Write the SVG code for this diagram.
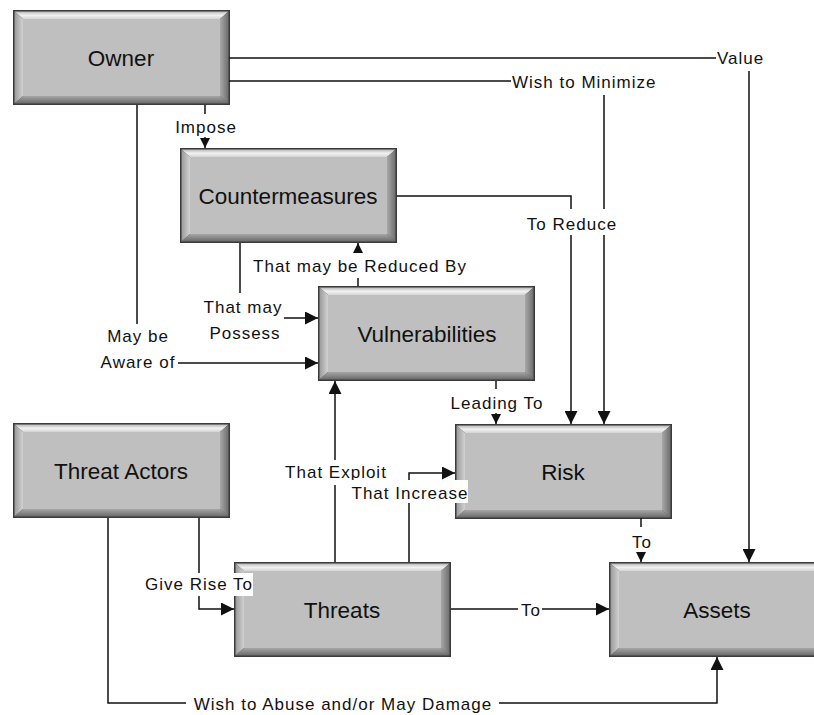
<svg xmlns="http://www.w3.org/2000/svg" xmlns:xlink="http://www.w3.org/1999/xlink" width="814" height="715" viewBox="0 0 814 715">
  <style>
    .node-text { font-family: "Liberation Sans", Arial, sans-serif; font-size: 22.5px; fill: #111; text-anchor: middle; }
    .lbl { font-family: "Liberation Sans", Arial, sans-serif; font-size: 17px; letter-spacing: 1px; fill: #111; text-anchor: middle; }
    .lbl-start { text-anchor: start; }
    .bg { fill: #ffffff; }
    .conn { fill: none; stroke: #111; stroke-width: 1.5; }
    .big { marker-end: url(#ah); }
    .small { marker-end: url(#ahs); }
  </style>
  <defs>
    <marker id="ah" markerUnits="userSpaceOnUse" markerWidth="13" markerHeight="13" viewBox="0 0 13 13" refX="13" refY="6.5" orient="auto">
      <path d="M0,0 L13,6.5 L0,13 z" fill="#111"/>
    </marker>
    <marker id="ahs" markerUnits="userSpaceOnUse" markerWidth="10" markerHeight="10" viewBox="0 0 10 10" refX="10" refY="5" orient="auto">
      <path d="M0,0 L10,5 L0,10 z" fill="#111"/>
    </marker>
    <linearGradient id="gTop" x1="0" y1="0" x2="0" y2="1">
      <stop offset="0" stop-color="#b8b8b8"/>
      <stop offset="0.5" stop-color="#f2f2f2"/>
      <stop offset="1" stop-color="#d4d4d4"/>
    </linearGradient>
    <linearGradient id="gBot" x1="0" y1="0" x2="0" y2="1">
      <stop offset="0" stop-color="#a6a6a6"/>
      <stop offset="1" stop-color="#6a6a6a"/>
    </linearGradient>
    <linearGradient id="gLeft" x1="0" y1="0" x2="1" y2="0">
      <stop offset="0" stop-color="#9a9a9a"/>
      <stop offset="1" stop-color="#d2d2d2"/>
    </linearGradient>
    <linearGradient id="gRight" x1="0" y1="0" x2="1" y2="0">
      <stop offset="0" stop-color="#a8a8a8"/>
      <stop offset="1" stop-color="#6e6e6e"/>
    </linearGradient>
    <symbol id="box" viewBox="0 0 217 95" overflow="visible">
      <rect x="0" y="0" width="217" height="95" fill="#3a3a3a"/>
      <polygon points="1.5,1.5 215.5,1.5 207,9 10,9" fill="url(#gTop)"/>
      <polygon points="1.5,1.5 10,9 10,86 1.5,93.5" fill="url(#gLeft)"/>
      <polygon points="215.5,1.5 215.5,93.5 207,86 207,9" fill="url(#gRight)"/>
      <polygon points="1.5,93.5 10,86 207,86 215.5,93.5" fill="url(#gBot)"/>
      <rect x="10" y="9" width="197" height="77" fill="#bfbfbf"/>
    </symbol>
  </defs>

  <rect width="814" height="715" fill="#ffffff"/>

  <g id="owner">
    <use xlink:href="#box" x="13" y="10" width="217" height="95"/>
    <text class="node-text" x="121" y="66">Owner</text>
  </g>
  <g id="countermeasures">
    <use xlink:href="#box" x="180" y="148" width="217" height="95"/>
    <text class="node-text" x="288" y="204">Countermeasures</text>
  </g>
  <g id="vulnerabilities">
    <use xlink:href="#box" x="318" y="286" width="217" height="95"/>
    <text class="node-text" x="427" y="342">Vulnerabilities</text>
  </g>
  <g id="threat-actors">
    <use xlink:href="#box" x="13" y="423" width="217" height="95"/>
    <text class="node-text" x="121" y="479">Threat Actors</text>
  </g>
  <g id="risk">
    <use xlink:href="#box" x="455" y="424" width="217" height="95"/>
    <text class="node-text" x="563" y="480">Risk</text>
  </g>
  <g id="threats">
    <use xlink:href="#box" x="234" y="562" width="217" height="95"/>
    <text class="node-text" x="342" y="618">Threats</text>
  </g>
  <g id="assets">
    <use xlink:href="#box" x="609" y="562" width="217" height="95"/>
    <text class="node-text" x="717" y="618">Assets</text>
  </g>

  <g id="connectors">
    <!-- Owner -> Assets : Value -->
    <path class="conn big" d="M229,58 H749 V562"/>
    <rect class="bg" x="716" y="47" width="52" height="24"/>
    <text class="lbl lbl-start" x="717" y="64">Value</text>

    <!-- Owner -> Risk : Wish to Minimize -->
    <path class="conn big" d="M229,81 H604 V424"/>
    <rect class="bg" x="511" y="70" width="155" height="25"/>
    <text class="lbl lbl-start" x="512" y="88">Wish to Minimize</text>

    <!-- Owner -> Countermeasures : Impose -->
    <path class="conn small" d="M205,105 V148"/>
    <rect class="bg" x="172" y="114" width="66" height="23"/>
    <text class="lbl" x="206" y="133">Impose</text>

    <!-- Owner -> Vulnerabilities : May be Aware of -->
    <path class="conn big" d="M137,105 V363 H318"/>
    <rect class="bg" x="95" y="324" width="83" height="49"/>
    <text class="lbl" x="138" y="342">May be</text>
    <text class="lbl" x="138" y="368">Aware of</text>

    <!-- Countermeasures -> Risk : To Reduce -->
    <path class="conn big" d="M397,196 H571 V424"/>
    <rect class="bg" x="524" y="209" width="94" height="26"/>
    <text class="lbl" x="572" y="230">To Reduce</text>

    <!-- Countermeasures -> Vulnerabilities : That may Possess -->
    <path class="conn big" d="M240,243 V318 H318"/>
    <rect class="bg" x="200" y="293" width="84" height="51"/>
    <text class="lbl" x="243" y="313">That may</text>
    <text class="lbl" x="245" y="339">Possess</text>

    <!-- Vulnerabilities -> Countermeasures : That may be Reduced By -->
    <path class="conn small" d="M358,286 V243"/>
    <rect class="bg" x="250" y="253" width="219" height="25"/>
    <text class="lbl" x="360" y="272">That may be Reduced By</text>

    <!-- Vulnerabilities -> Risk : Leading To -->
    <path class="conn small" d="M496,381 V424"/>
    <rect class="bg" x="448" y="389" width="96" height="24"/>
    <text class="lbl" x="497" y="409">Leading To</text>

    <!-- Threats -> Vulnerabilities : That Exploit -->
    <path class="conn big" d="M335,562 V381"/>
    <rect class="bg" x="281" y="460" width="109" height="25"/>
    <text class="lbl" x="336" y="478">That Exploit</text>

    <!-- Threats -> Risk : That Increase -->
    <path class="conn big" d="M409,562 V473 H455"/>
    <rect class="bg" x="351" y="480" width="117" height="23"/>
    <text class="lbl" x="410" y="499">That Increase</text>

    <!-- Threat Actors -> Threats : Give Rise To -->
    <path class="conn big" d="M199,518 V609 H234"/>
    <rect class="bg" x="145" y="573" width="108" height="23"/>
    <text class="lbl" x="199" y="590">Give Rise To</text>

    <!-- Threats -> Assets : To -->
    <path class="conn big" d="M451,609 H609"/>
    <rect class="bg" x="518" y="598" width="24" height="22"/>
    <text class="lbl" x="531" y="616">To</text>

    <!-- Risk -> Assets : To -->
    <path class="conn small" d="M641,518 V562"/>
    <rect class="bg" x="629" y="527" width="24" height="25"/>
    <text class="lbl" x="642" y="548">To</text>

    <!-- Threat Actors -> Assets : Wish to Abuse and/or May Damage -->
    <path class="conn big" d="M108,518 V703 H717 V657"/>
    <rect class="bg" x="186" y="692" width="313" height="23"/>
    <text class="lbl" x="343" y="710">Wish to Abuse and/or May Damage</text>
  </g>
</svg>
